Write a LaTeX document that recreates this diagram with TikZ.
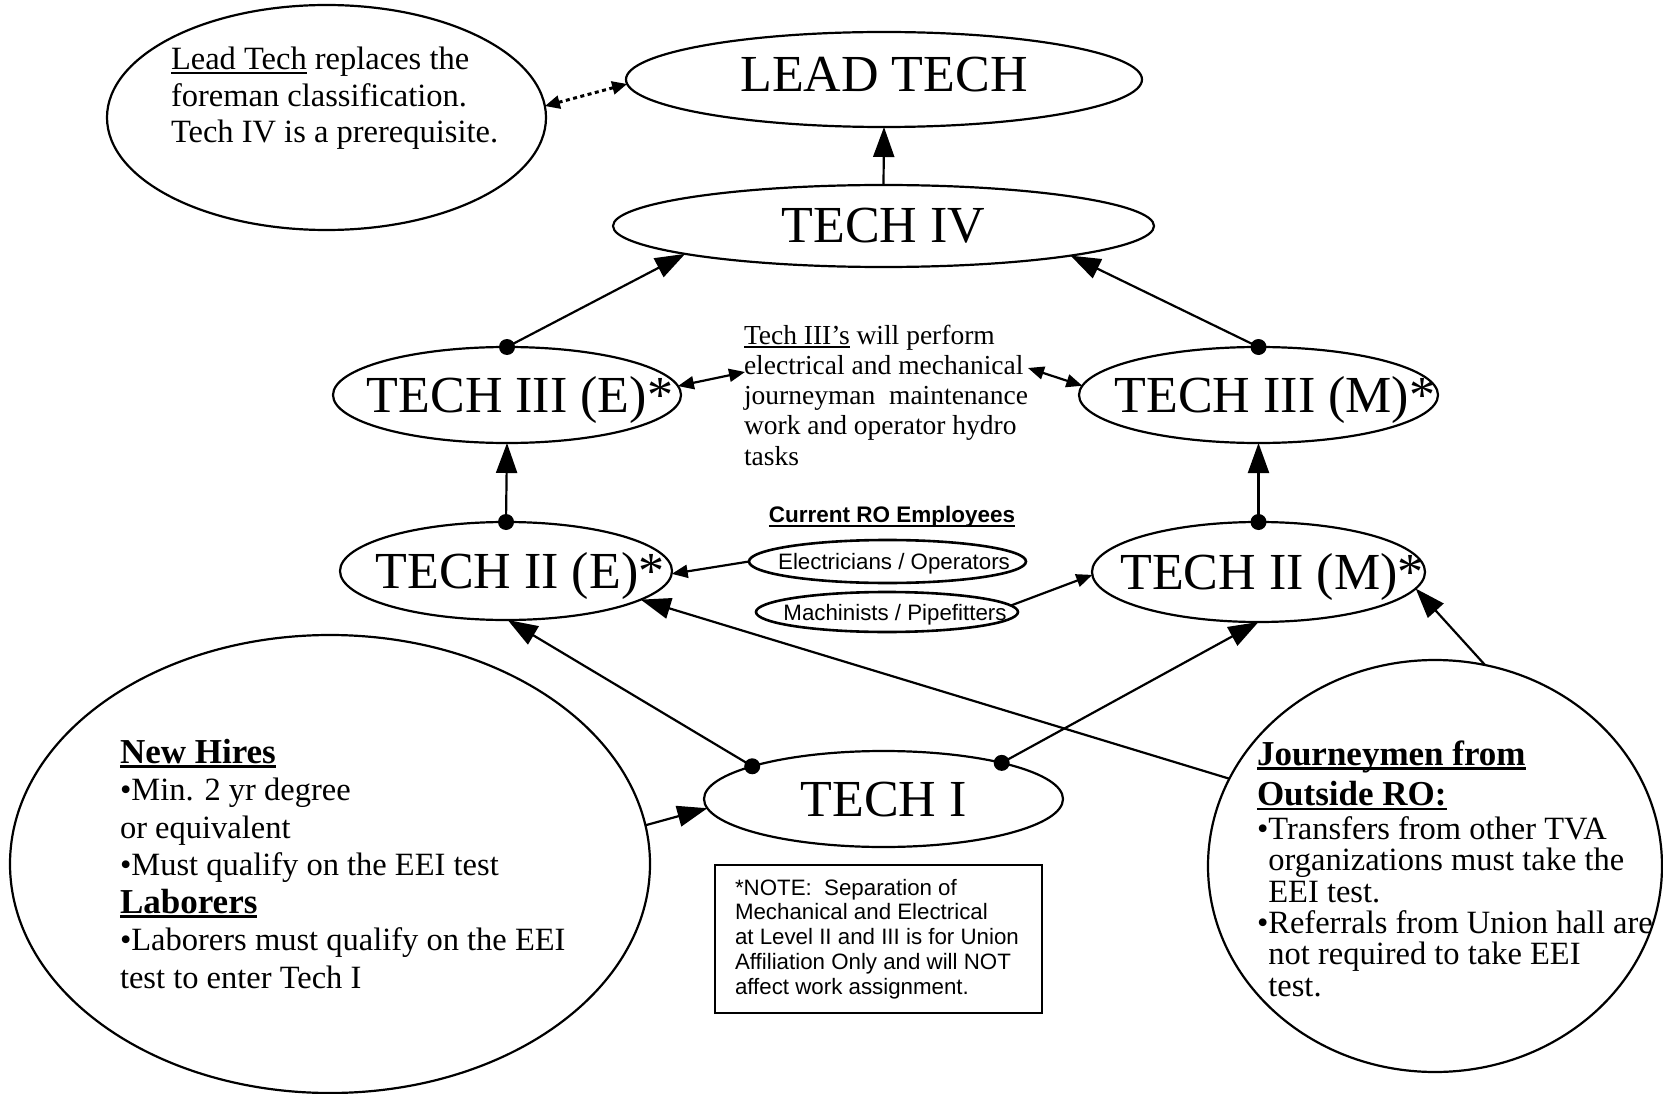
\documentclass[tikz,border=0pt]{standalone}
\usepackage{fontspec}
\setmainfont{Liberation Serif}
\newfontfamily\arialf{Liberation Sans}
\usetikzlibrary{shapes.geometric,arrows.meta}
\newcommand\myul[3]{\leavevmode\setbox0=\hbox{#3}\rlap{\rule[-#1]{\wd0}{#2}}\box0\relax}
\begin{document}
\begin{tikzpicture}[x=1pt,y=-1pt,
  ell/.style={draw, ellipse, line width=2.2pt, inner sep=0pt, outer sep=0pt},
  techlbl/.style={ell, font=\fontsize{52}{60}\selectfont, text height=34pt, text depth=0pt},
  smallell/.style={ell, line width=2.6pt, font=\arialf\fontsize{22.3}{26}\selectfont, text height=16pt, text depth=0pt},
  txt/.style={inner sep=0pt, outer sep=0pt, align=left, anchor=north west},
  con/.style={line width=2.2pt, -{Triangle[length=30pt,width=21pt]}},
  scon/.style={line width=2.2pt, -{Triangle[length=16pt,width=13pt]}},
  dbl/.style={line width=2.2pt, {Triangle[length=16pt,width=13pt]}-{Triangle[length=16pt,width=13pt]}},
  dotarrow/.style={line width=3pt, dash pattern=on 4pt off 3.5pt, {Triangle[length=15pt,width=13pt]}-{Triangle[length=15pt,width=13pt]}}
]
\fill[white] (0,0) rectangle (1663,1094);
\useasboundingbox (0,0) rectangle (1663,1094);

% main level ellipses
\node[techlbl, minimum width=516pt, minimum height=95pt, text depth=10pt] (lead) at (884,79.5) {\makebox[0pt]{LEAD TECH}};
\node[techlbl, minimum width=541pt, minimum height=82pt] (t4) at (883.5,226) {\makebox[0pt]{TECH IV}};
\node[techlbl, minimum width=348pt, minimum height=96pt] (t3e) at (507,395) {\makebox[0pt]{\hspace*{26pt}TECH III (E)*}};
\node[techlbl, minimum width=359pt, minimum height=96pt] (t3m) at (1258.5,395) {\makebox[0pt]{\hspace*{33pt}TECH III (M)*}};
\node[techlbl, minimum width=332pt, minimum height=98pt] (t2e) at (506,571) {\makebox[0pt]{\hspace*{28pt}TECH II (E)*}};
\node[techlbl, minimum width=333pt, minimum height=100pt] (t2m) at (1258.5,572) {\makebox[0pt]{\hspace*{27pt}TECH II (M)*}};
\node[techlbl, minimum width=359pt, minimum height=96pt] (t1) at (883.5,799) {\makebox[0pt]{TECH I}};

% small ellipses
\node[smallell, minimum width=277pt, minimum height=43pt] (elec) at (887.5,561.5) {\makebox[0pt]{\hspace*{13pt}Electricians / Operators}};
\node[smallell, minimum width=262pt, minimum height=40pt] (mach) at (887,612) {\makebox[0pt]{\hspace*{16pt}Machinists / Pipefitters}};

% large text ellipses
\node[ell, minimum width=439pt, minimum height=225pt] (note) at (326.5,117.5) {};
\node[ell, minimum width=640pt, minimum height=458pt] (newh) at (330,864) {};
\node[ell, minimum width=454pt, minimum height=412pt] (journ) at (1435,866) {};

% note box
\node[draw, line width=2.5pt, inner sep=0pt, minimum width=327pt, minimum height=148pt] (nbox) at (878.5,939) {};

% texts
\node[txt, font=\fontsize{32.5}{36.5}\selectfont] (notetxt) at (171,37.5)
  {\rule{0pt}{32.5pt}\myul{4.5pt}{2.2pt}{Lead Tech} replaces the\\foreman classification.\\Tech IV is a prerequisite.};

\node[txt, font=\fontsize{27.5}{30.3}\selectfont] (desc) at (744,316.5)
  {\rule{0pt}{27.5pt}\myul{3.5pt}{1.8pt}{Tech III’s} will perform\\electrical and mechanical\\journeyman~ maintenance\\work and operator hydro\\tasks};

\node[inner sep=0pt, anchor=base, font=\arialf\bfseries\fontsize{22.5}{26}\selectfont] (cur) at (892,522)
  {\myul{5pt}{2pt}{Current RO Employees}};

\node[txt, font=\arialf\fontsize{22.3}{24.8}\selectfont] (ntxt) at (735,872.7)
  {\rule{0pt}{22.3pt}*NOTE:~ Separation of\\Mechanical and Electrical\\at Level II and III is for Union\\Affiliation Only and will NOT\\affect work assignment.};

\node[txt, font=\fontsize{32.5}{37.5}\selectfont] (nhtxt) at (120,728)
  {\rule{0pt}{35pt}{\bfseries\fontsize{35}{37.5}\selectfont\myul{4.5pt}{2.5pt}{New Hires}}\\
   •Min. 2 yr degree\\or equivalent\\•Must qualify on the EEI test\\
   {\bfseries\fontsize{35}{37.5}\selectfont\myul{4.5pt}{2.5pt}{Laborers}}\\
   •Laborers must qualify on the EEI\\test to enter Tech I};

\node[txt, font=\fontsize{32.5}{31.3}\selectfont] (jtxt) at (1257,730)
  {\rule{0pt}{35pt}{\bfseries\fontsize{35}{31.3}\selectfont\myul{4.5pt}{2.5pt}{Journeymen from}}\\[7.7pt]
   {\bfseries\fontsize{35}{31.3}\selectfont\myul{4.5pt}{2.5pt}{Outside RO:}}\\[2.7pt]
   •Transfers from other TVA\\\hphantom{•}organizations must take the\\\hphantom{•}EEI test.\\
   •Referrals from Union hall are\\\hphantom{•}not required to take EEI\\\hphantom{•}test.};

\coordinate (dL) at (745,372);
\coordinate (dR) at (1028,368);

% dots
\fill (t3e.north) circle (8pt);
\fill (t3m.north) circle (8pt);
\fill (t2e.north) circle (8pt);
\fill (t2m.north) circle (8pt);
\fill (t1.166) circle (8pt);
\fill (t1.17) circle (8pt);

% connectors
\draw[con] (t4.north) -- (lead.south);
\draw[con] (t3e.north) -- (t4.188);
\draw[con] (t3m.north) -- (t4.351);
\draw[con] (t2e.north) -- (t3e.south);
\draw[con] (t2m.north) -- (t3m.south);
\draw[con] (t1.166) -- (t2e.272);
\draw[con] (t1.17) -- (t2m.south);
\draw[con] (journ.157) -- (t2e.348);
\draw[con] (journ.76) -- (t2m.354);
\draw[con] (newh.7) -- (t1.183);
\draw[scon] (elec.west) -- (t2e.359);
\draw[scon] (mach.3) -- (t2m.181);
\draw[dbl] (t3e.3) -- (dL);
\draw[dbl] (dR) -- (t3m.177);
\draw[dotarrow] (note.3) -- (lead.181);
\end{tikzpicture}
\end{document}
